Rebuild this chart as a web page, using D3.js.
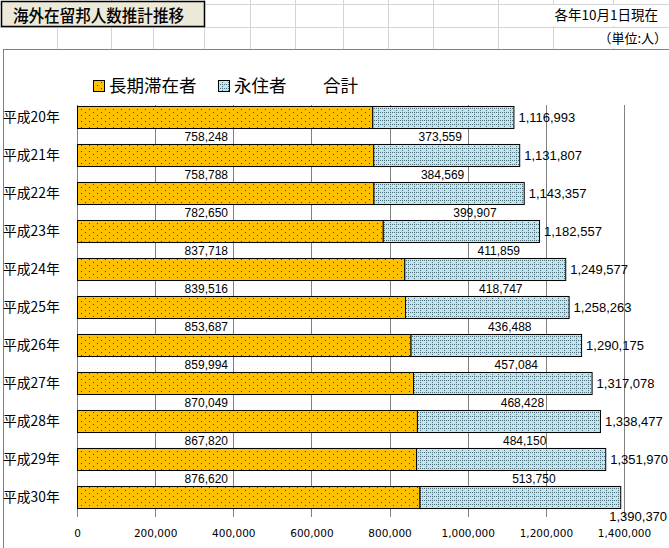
<!DOCTYPE html>
<html><head><meta charset="utf-8">
<script src="https://cdn.jsdelivr.net/npm/d3@7"></script>
<style>
html,body{margin:0;padding:0;background:#fff;}
svg{display:block;}
</style></head>
<body>
<script>
// ---- data ----
const years = ["平成20年","平成21年","平成22年","平成23年","平成24年","平成25年","平成26年","平成27年","平成28年","平成29年","平成30年"];
const longStay = [755724,758248,758788,782650,837718,839516,853687,859994,870049,867820,876620];
const permanent = [361269,373559,384569,399907,411859,418747,436488,457084,468428,484150,513750];
const totals = [1116993,1131807,1143357,1182557,1249577,1258263,1290175,1317078,1338477,1351970,1390370];
const seriesNames = ["長期滞在者","永住者","合計"];
const xTicks = [0,200000,400000,600000,800000,1000000,1200000,1400000];
const titleText = "海外在留邦人数推計推移";
const noteDate = "各年10月1日現在";
const noteUnit = "（単位:人）";

const W = 669, H = 548;
const svg = d3.select("body").append("svg").attr("width", W).attr("height", H);
const defs = svg.append("defs");

// patterns
const pOr = defs.append("pattern").attr("id","pOrange").attr("patternUnits","userSpaceOnUse")
  .attr("width",8).attr("height",6);
pOr.append("rect").attr("width",8).attr("height",6).attr("fill","#FFC000");
pOr.append("rect").attr("x",1).attr("y",1).attr("width",1).attr("height",1).attr("fill","#5a4000");
pOr.append("rect").attr("x",5).attr("y",4).attr("width",1).attr("height",1).attr("fill","#5a4000");

const pBl = defs.append("pattern").attr("id","pBlue").attr("patternUnits","userSpaceOnUse")
  .attr("width",6).attr("height",4);
pBl.append("rect").attr("width",6).attr("height",4).attr("fill","#BEE5F1");
[[0,0],[2,0],[4,0],[0,2]].forEach(([x,y])=>pBl.append("rect").attr("x",x).attr("y",y).attr("width",1).attr("height",1).attr("fill","#4f6f7a"));

// spreadsheet background grid
const sheet = svg.append("g");
[4,27].forEach(y=>sheet.append("line").attr("x1",0).attr("x2",W).attr("y1",y+0.5).attr("y2",y+0.5).attr("stroke","#d4d4d4"));
[57,111,153,204,250,295,343,388,433,498,553,613].forEach(x=>sheet.append("line").attr("x1",x+0.5).attr("x2",x+0.5).attr("y1",0).attr("y2",49).attr("stroke","#d4d4d4"));

// title box
sheet.append("rect").attr("x",1.5).attr("y",1.5).attr("width",203).attr("height",25).attr("fill","#ECE9D8").attr("stroke","#000").attr("stroke-width",1.5);
sheet.append("text").attr("x",13).attr("y",21.5).attr("font-family","Noto Sans CJK JP").attr("font-size",17.5).attr("font-weight",500).attr("fill","#000")
  .attr("textLength",171).attr("lengthAdjust","spacingAndGlyphs").text(titleText);

// notes (white bg to hide cell lines)
sheet.append("rect").attr("x",548).attr("y",5).attr("width",117).attr("height",21).attr("fill","#fff");
sheet.append("rect").attr("x",600).attr("y",28).attr("width",69).attr("height",20).attr("fill","#fff");
sheet.append("text").attr("x",658).attr("y",20).attr("text-anchor","end").attr("font-family","Noto Sans CJK JP").attr("font-size",13.5).text(noteDate);
sheet.append("text").attr("x",667).attr("y",43).attr("text-anchor","end").attr("font-family","Noto Sans CJK JP").attr("font-size",13).text(noteUnit);

// chart frame
svg.append("rect").attr("x",3.5).attr("y",49.5).attr("width",W+10).attr("height",H).attr("fill","#fff").attr("stroke","#808080");

// scales
const x = d3.scaleLinear().domain([0,1400000]).range([77,624]);
const y = d3.scaleBand().domain(years).range([98,516]).paddingInner(0.42).paddingOuter(0.21);

// gridlines
const g = svg.append("g");
g.selectAll("line.grid").data(xTicks).join("line").attr("class","grid")
  .attr("x1",d=>Math.round(x(d))+0.5).attr("x2",d=>Math.round(x(d))+0.5)
  .attr("y1",105).attr("y2",517).attr("stroke","#808080");

// x axis labels
const xAxis = d3.axisBottom(x).tickValues(xTicks).tickSize(0).tickFormat(d3.format(","));
const ax = svg.append("g").attr("transform","translate(0,527)").call(xAxis);
ax.select(".domain").remove();
ax.selectAll("text").attr("font-family","DejaVu Sans").attr("font-size",10.5).attr("fill","#000");

// y labels
svg.append("g").selectAll("text").data(years).join("text")
  .attr("x",3).attr("y",d=>y(d)+y.bandwidth()/2).attr("dy","0.36em")
  .attr("font-family","Noto Sans CJK JP").attr("font-size",13.8).attr("fill","#000").text(d=>d);

// bars
const rows = years.map((yr,i)=>({yr,i,l:longStay[i],p:permanent[i],t:totals[i]}));
const bars = svg.append("g");
bars.selectAll("rect.l").data(rows).join("rect").attr("class","l")
  .attr("x",d=>x(0)+0.5).attr("y",d=>y(d.yr)+0.5)
  .attr("width",d=>x(d.l)-x(0)).attr("height",y.bandwidth())
  .attr("fill","url(#pOrange)").attr("stroke","#000").attr("stroke-width",1);
bars.selectAll("rect.p").data(rows).join("rect").attr("class","p")
  .attr("x",d=>x(d.l)+0.5).attr("y",d=>y(d.yr)+0.5)
  .attr("width",d=>x(d.l+d.p)-x(d.l)).attr("height",y.bandwidth())
  .attr("fill","url(#pBlue)").attr("stroke","#000").attr("stroke-width",1);

// segment labels (placed above each bar; first row's labels not visible in source)
const lab = svg.append("g").attr("font-family","Liberation Sans").attr("font-size",12).attr("fill","#000");
const shown = rows.filter(d=>d.i>0);
lab.selectAll("text.l").data(shown).join("text").attr("class","l")
  .attr("x",x(0)+151).attr("y",d=>y(d.yr)-7).attr("dy","0.35em").attr("text-anchor","end")
  .text(d=>d3.format(",")(d.l));
lab.selectAll("text.p").data(shown).join("text").attr("class","p")
  .attr("x",d=>(x(d.l)+x(d.l+d.p))/2 + (d.i>2?14:-6)).attr("y",d=>y(d.yr)-7).attr("dy","0.35em").attr("text-anchor","middle")
  .text(d=>d3.format(",")(d.p));

// total labels
const tl = svg.append("g").attr("font-family","Liberation Sans").attr("font-size",13).attr("fill","#000");
tl.selectAll("text").data(rows).join("text")
  .attr("x",d=> x(d.t)+58>665 ? x(d.t)-11 : x(d.t)+5)
  .attr("y",d=> x(d.t)+58>665 ? y(d.yr)+y.bandwidth()+8 : y(d.yr)+y.bandwidth()/2)
  .attr("dy","0.36em")
  .text(d=>d3.format(",")(d.t));

// legend
const lg = svg.append("g").attr("font-family","Noto Sans CJK JP").attr("font-size",17.5);
const legItems = [
  {name:seriesNames[0], fill:"url(#pOrange)", x:93},
  {name:seriesNames[1], fill:"url(#pBlue)", x:218},
  {name:seriesNames[2], fill:null, x:307}
];
legItems.forEach(it=>{
  if(it.fill) lg.append("rect").attr("x",it.x+0.5).attr("y",80.5).attr("width",11).attr("height",11).attr("fill",it.fill).attr("stroke","#000");
  lg.append("text").attr("x",it.x+16).attr("y",86).attr("dy","0.36em").text(it.name);
});
</script>
</body></html>
